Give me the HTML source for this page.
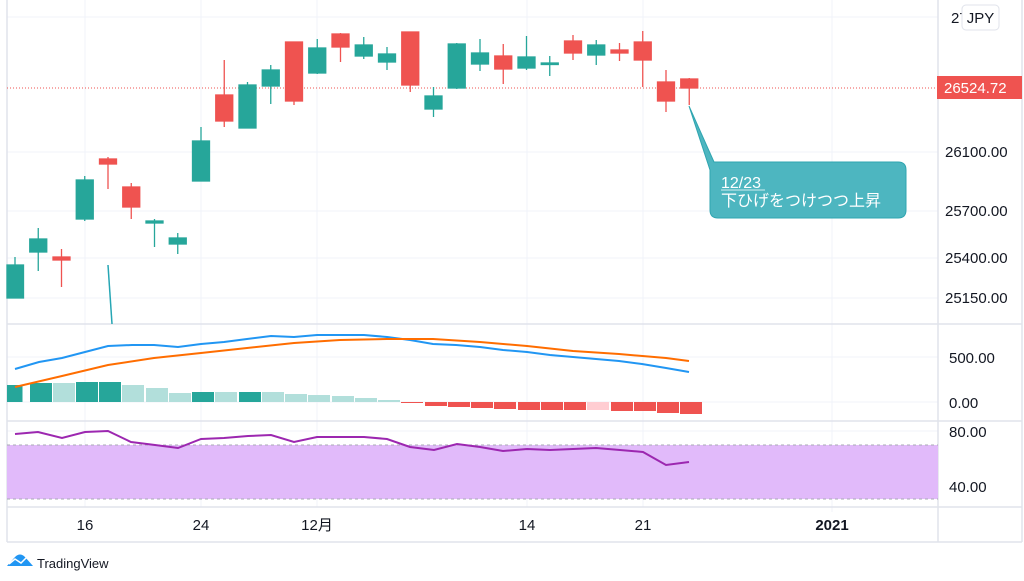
<!DOCTYPE html>
<html><head><meta charset="utf-8"><style>
body{margin:0;background:#fff;}
svg{display:block;font-family:"Liberation Sans","Noto Sans CJK JP",sans-serif;}
</style></head><body>
<svg width="1024" height="581" viewBox="0 0 1024 581" xmlns="http://www.w3.org/2000/svg">
<rect width="1024" height="581" fill="#fff"/>
<!-- grid -->
<g stroke="#f0f3fa" stroke-width="1">
<line x1="7" y1="17" x2="938" y2="17"/><line x1="7" y1="152" x2="938" y2="152"/><line x1="7" y1="211" x2="938" y2="211"/><line x1="7" y1="258" x2="938" y2="258"/><line x1="7" y1="298" x2="938" y2="298"/>
<line x1="7" y1="357" x2="938" y2="357"/><line x1="7" y1="402" x2="938" y2="402"/><line x1="7" y1="431" x2="938" y2="431"/><line x1="7" y1="487" x2="938" y2="487"/>
<line x1="85" y1="0" x2="85" y2="507"/><line x1="201" y1="0" x2="201" y2="507"/><line x1="317" y1="0" x2="317" y2="507"/><line x1="527" y1="0" x2="527" y2="507"/><line x1="643" y1="0" x2="643" y2="507"/><line x1="832" y1="0" x2="832" y2="512"/>
</g>
<!-- frame -->
<g stroke="#e0e3eb" stroke-width="1.5" fill="none">
<line x1="7" y1="0" x2="7" y2="542"/><line x1="1022" y1="0" x2="1022" y2="542"/><line x1="7" y1="542" x2="1022" y2="542"/>
<line x1="938" y1="0" x2="938" y2="542"/>
<line x1="7" y1="324" x2="1022" y2="324"/><line x1="7" y1="421" x2="1022" y2="421"/><line x1="7" y1="507" x2="1022" y2="507"/>
</g>
<!-- price line -->
<line x1="7" y1="88" x2="938" y2="88" stroke="#ef5350" stroke-width="1" stroke-dasharray="1,2"/>
<!-- teal line fragment -->
<line x1="108" y1="265" x2="112" y2="324" stroke="#26a6b4" stroke-width="1.5"/>
<!-- candles -->
<g stroke-width="1.3">
<g stroke="#26a69a" fill="#26a69a">
<line x1="15" y1="257" x2="15" y2="298"/><rect x="7" y="265" width="16.5" height="33"/>
<line x1="38.25" y1="228" x2="38.25" y2="271"/><rect x="29.75" y="239" width="17" height="13"/>
<line x1="84.75" y1="176" x2="84.75" y2="221"/><rect x="76.25" y="180" width="17" height="39"/>
<line x1="154.5" y1="219" x2="154.5" y2="247"/><rect x="146" y="221" width="17" height="2"/>
<line x1="177.75" y1="233" x2="177.75" y2="254"/><rect x="169.25" y="238" width="17" height="6"/>
<line x1="201" y1="127" x2="201" y2="181"/><rect x="192.5" y="141" width="17" height="40"/>
<line x1="247.5" y1="82" x2="247.5" y2="128"/><rect x="239" y="85" width="17" height="43"/>
<line x1="270.75" y1="65" x2="270.75" y2="104"/><rect x="262.25" y="70" width="17" height="16"/>
<line x1="317.25" y1="39" x2="317.25" y2="74"/><rect x="308.75" y="48" width="17" height="25"/>
<line x1="363.75" y1="37" x2="363.75" y2="59"/><rect x="355.25" y="45" width="17" height="11"/>
<line x1="387" y1="47" x2="387" y2="70"/><rect x="378.5" y="54" width="17" height="8"/>
<line x1="433.5" y1="87" x2="433.5" y2="117"/><rect x="425" y="96" width="17" height="13"/>
<line x1="456.75" y1="43" x2="456.75" y2="89"/><rect x="448.25" y="44" width="17" height="44"/>
<line x1="480" y1="39" x2="480" y2="71"/><rect x="471.5" y="53" width="17" height="11"/>
<line x1="526.5" y1="36" x2="526.5" y2="70"/><rect x="518" y="57" width="17" height="11"/>
<line x1="549.75" y1="56" x2="549.75" y2="76"/><rect x="541.25" y="63" width="17" height="1.5"/>
<line x1="596.25" y1="40" x2="596.25" y2="65"/><rect x="587.75" y="45" width="17" height="10"/>
</g>
<g stroke="#ef5350" fill="#ef5350">
<line x1="61.5" y1="249" x2="61.5" y2="287"/><rect x="53" y="257" width="17" height="3"/>
<line x1="108" y1="157" x2="108" y2="189"/><rect x="99.5" y="159" width="17" height="5"/>
<line x1="131.25" y1="183" x2="131.25" y2="219"/><rect x="122.75" y="187" width="17" height="20"/>
<line x1="224.25" y1="60" x2="224.25" y2="127"/><rect x="215.75" y="95" width="17" height="26"/>
<line x1="294" y1="42" x2="294" y2="105"/><rect x="285.5" y="42" width="17" height="59"/>
<line x1="340.5" y1="33" x2="340.5" y2="62"/><rect x="332" y="34" width="17" height="13"/>
<line x1="410.25" y1="32" x2="410.25" y2="92"/><rect x="401.75" y="32" width="17" height="53"/>
<line x1="503.25" y1="44" x2="503.25" y2="84"/><rect x="494.75" y="56" width="17" height="13"/>
<line x1="573" y1="35" x2="573" y2="60"/><rect x="564.5" y="41" width="17" height="12"/>
<line x1="619.5" y1="43" x2="619.5" y2="61"/><rect x="611" y="50" width="17" height="3"/>
<line x1="642.75" y1="31" x2="642.75" y2="87"/><rect x="634.25" y="42" width="17" height="18"/>
<line x1="666" y1="70" x2="666" y2="112"/><rect x="657.5" y="82" width="17" height="19"/>
<line x1="689.25" y1="78" x2="689.25" y2="105"/><rect x="680.75" y="79" width="17" height="9"/>
</g>
</g>
<!-- callout -->
<path d="M689,106 L714,162 L898,162 Q906,162 906,170 L906,210 Q906,218 898,218 L718,218 Q710,218 710,210 L710,170 Z" fill="#4db6c0" stroke="#2fa5b0" stroke-width="1"/>
<text x="721" y="188" font-size="16" fill="#fff">12/23</text>
<line x1="721" y1="190" x2="765" y2="190" stroke="#fff" stroke-width="0.8"/>
<text x="721" y="206" font-size="16" fill="#fff">下ひげをつけつつ上昇</text>
<!-- MACD histogram -->
<g fill="#26a69a">
<rect x="7" y="385" width="15.5" height="17"/><rect x="30" y="383" width="22" height="19"/><rect x="76" y="382" width="22" height="20"/><rect x="99" y="382" width="22" height="20"/><rect x="192" y="392" width="22" height="10"/><rect x="239" y="392" width="22" height="10"/>
</g>
<g fill="#b2dfdb">
<rect x="53" y="383" width="22" height="19"/><rect x="122" y="385" width="22" height="17"/><rect x="146" y="388" width="22" height="14"/><rect x="169" y="393" width="22" height="9"/><rect x="215" y="392" width="22" height="10"/><rect x="262" y="392" width="22" height="10"/><rect x="285" y="394" width="22" height="8"/><rect x="308" y="395" width="22" height="7"/><rect x="332" y="396" width="22" height="6"/><rect x="355" y="398" width="22" height="4"/><rect x="378" y="400" width="22" height="2"/>
</g>
<g fill="#ef5350">
<rect x="401" y="402" width="22" height="1"/><rect x="425" y="402" width="22" height="4"/><rect x="448" y="402" width="22" height="5"/><rect x="471" y="402" width="22" height="6"/><rect x="494" y="402" width="22" height="7"/><rect x="518" y="402" width="22" height="8"/><rect x="541" y="402" width="22" height="8"/><rect x="564" y="402" width="22" height="8"/><rect x="611" y="402" width="22" height="9"/><rect x="634" y="402" width="22" height="9"/><rect x="657" y="402" width="22" height="11"/><rect x="680" y="402" width="22" height="12"/>
</g>
<rect x="587" y="402" width="22" height="8" fill="#ffcdd2"/>
<!-- MACD lines -->
<polyline fill="none" stroke="#2196f3" stroke-width="2" points="15,369 39,362 62,358 85,352 108,346 132,345 154,345 178,347 201,344 224,342 247,339 271,336 294,337 317,335 340,335 364,335 387,337 410,340 433,344 456,345 480,347 503,350 527,352 550,355 573,357 596,359 619,361 642,364 666,368 689,372"/>
<polyline fill="none" stroke="#ff6d00" stroke-width="2" points="15,387 62,376 108,365 154,358 201,353 247,348 294,343 340,340 387,339 433,339 480,342 527,346 573,351 619,354 666,358 689,361"/>
<!-- RSI -->
<rect x="7" y="445" width="931" height="54" fill="#e1bafa"/>
<line x1="7" y1="445" x2="938" y2="445" stroke="#a9a9b5" stroke-dasharray="3,3"/>
<line x1="7" y1="499" x2="938" y2="499" stroke="#a9a9b5" stroke-dasharray="3,3"/>
<polyline fill="none" stroke="#9c27b0" stroke-width="2" points="15,434 38,432 62,438 85,432 108,431 131,442 155,445 178,448 201,439 224,438 248,436 271,435 294,442 317,437 340,437 364,437 387,439 410,447 434,450 457,444 480,447 503,451 527,449 550,450 573,449 596,448 620,450 643,452 666,465 689,462"/>
<!-- axis labels -->
<g font-size="15" fill="#131722">
<text x="951" y="23">27</text><text x="983" y="23">00</text>
<text x="945" y="157">26100.00</text>
<text x="945" y="216">25700.00</text>
<text x="945" y="263">25400.00</text>
<text x="945" y="303">25150.00</text>
<text x="949" y="363">500.00</text>
<text x="949" y="408">0.00</text>
<text x="949" y="437">80.00</text>
<text x="949" y="492">40.00</text>
<text x="85" y="530" text-anchor="middle">16</text>
<text x="201" y="530" text-anchor="middle">24</text>
<text x="317" y="530" text-anchor="middle">12月</text>
<text x="527" y="530" text-anchor="middle">14</text>
<text x="643" y="530" text-anchor="middle">21</text>
<text x="832" y="530" text-anchor="middle" font-weight="bold">2021</text>
</g>
<rect x="962" y="5" width="37" height="25" rx="4" fill="#fff" stroke="#e0e3eb"/>
<text x="980.5" y="23" font-size="15" fill="#131722" text-anchor="middle">JPY</text>
<rect x="937" y="76" width="85" height="23" fill="#ef5350"/>
<text x="944" y="93" font-size="15" fill="#fff">26524.72</text>
<!-- logo -->
<path d="M7,566 L15,557 Q20,552 25,557 L33,566 Z" fill="#2196f3"/>
<polyline points="9,564 15,559 21,563 27,557" fill="none" stroke="#fff" stroke-width="1.5"/>
<text x="37" y="568" font-size="13" fill="#131722">TradingView</text>
</svg>
</body></html>
